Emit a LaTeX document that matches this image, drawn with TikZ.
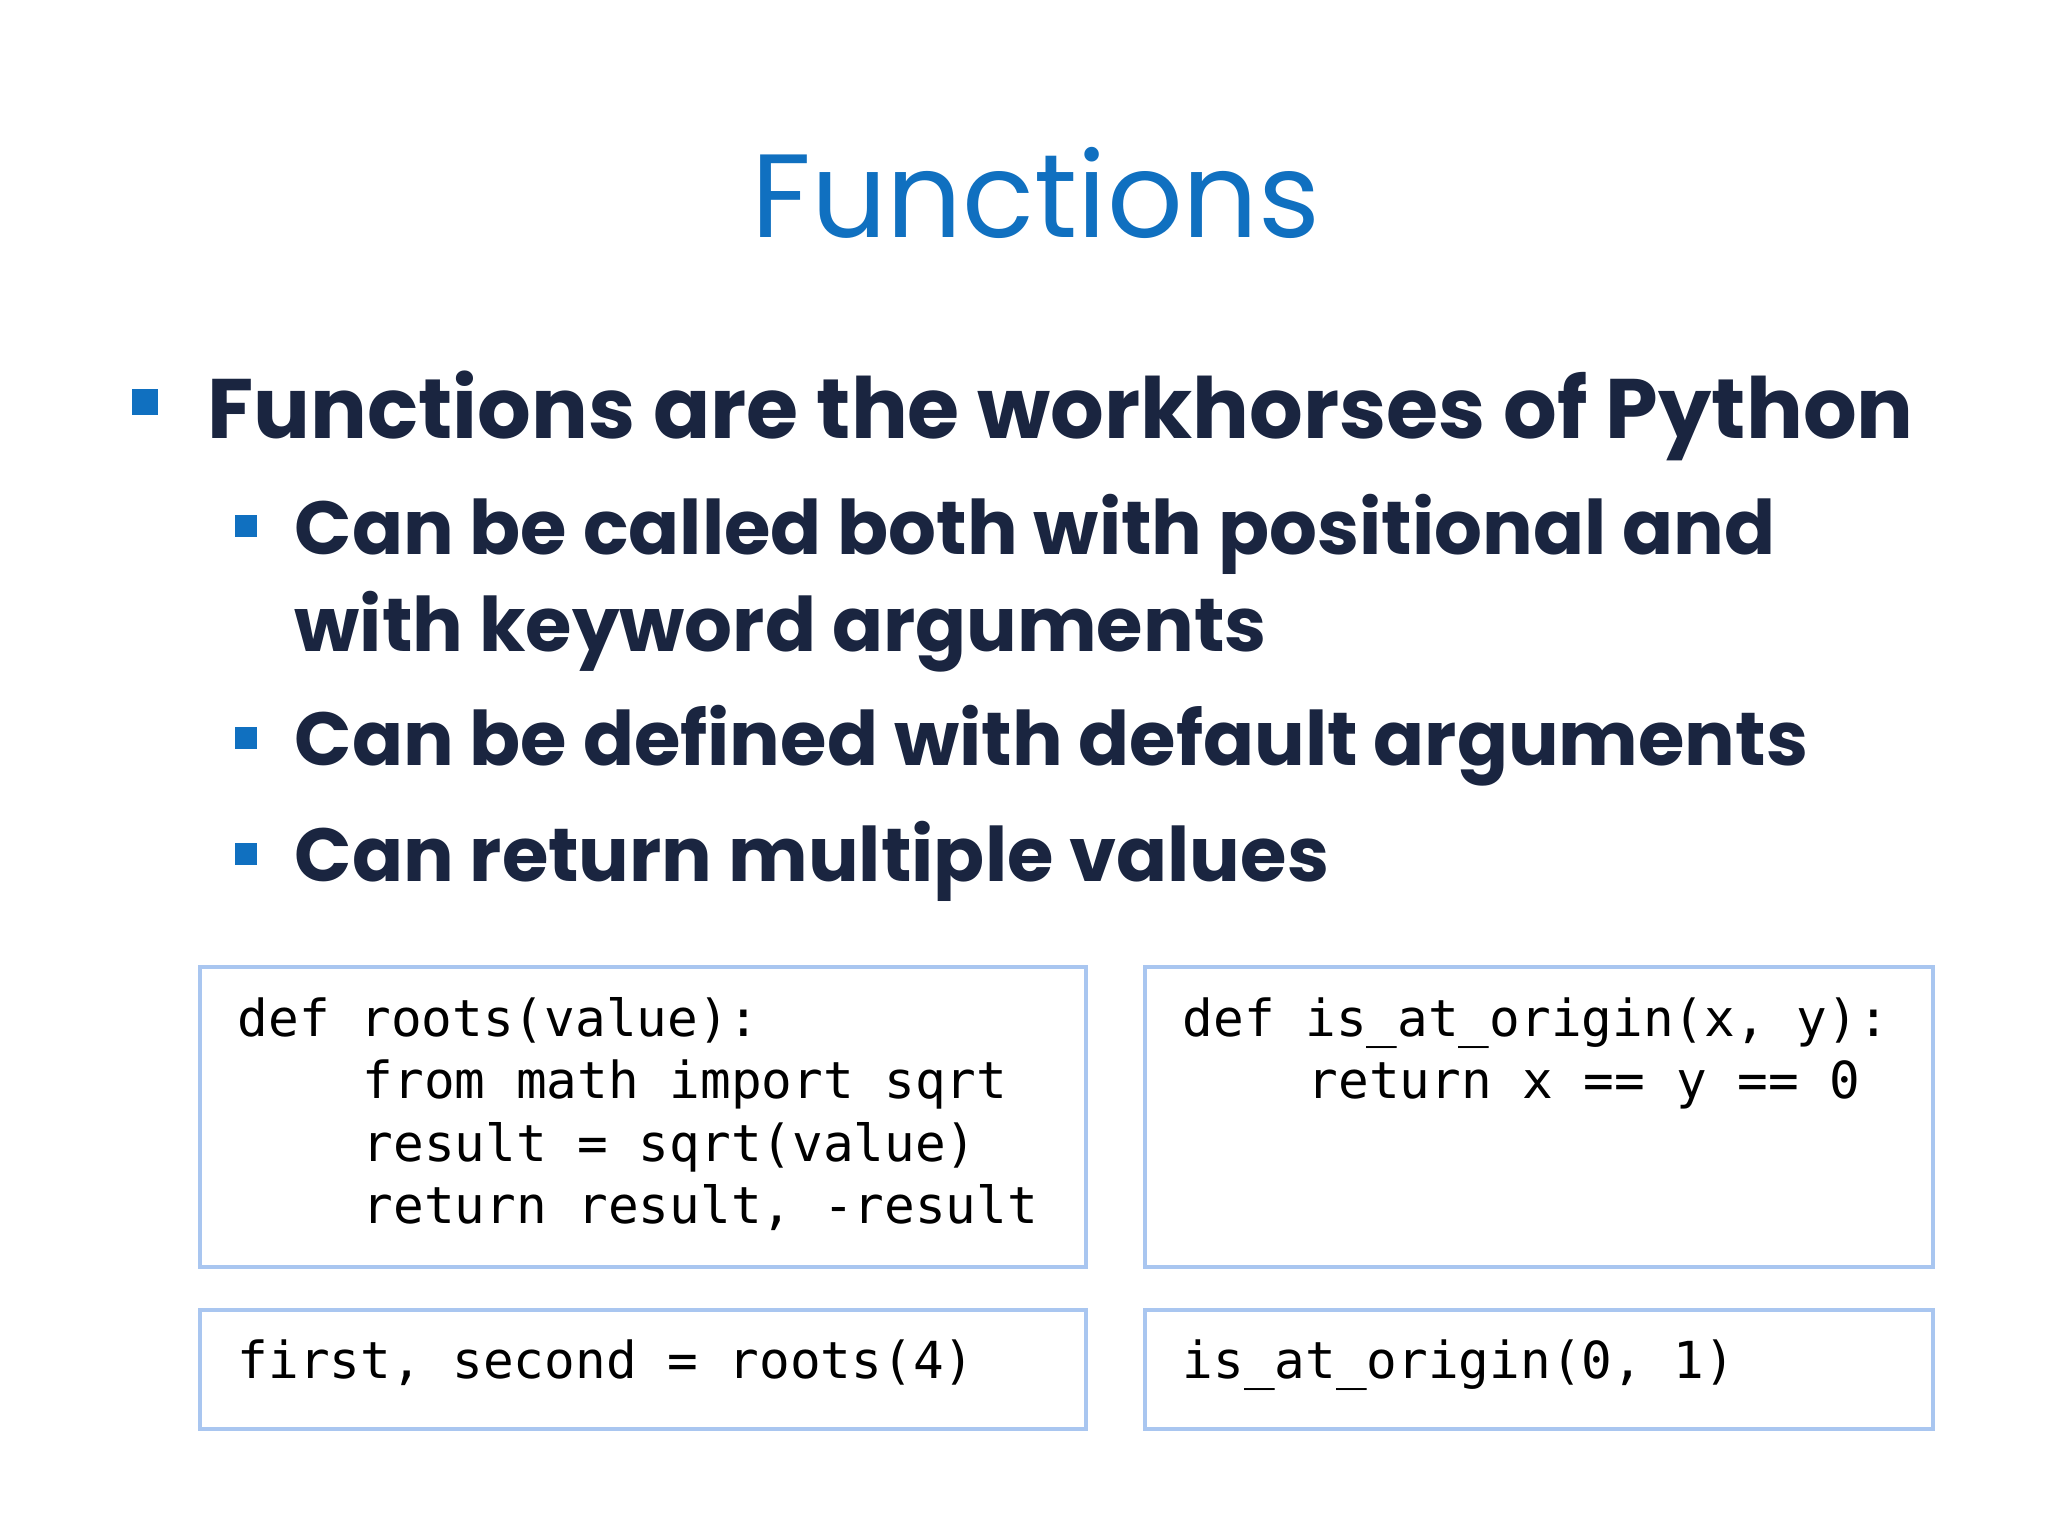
\documentclass[tikz,border=0pt]{standalone}
\usepackage{fontspec}
\setmainfont{Poppins}
\setmonofont{DejaVu Sans Mono}
\definecolor{tblue}{HTML}{1070C0}
\definecolor{navy}{HTML}{1A2540}
\definecolor{bord}{HTML}{A9C6F0}
\begin{document}
\begin{tikzpicture}[x=0.01cm,y=-0.01cm,
  bul/.style={fill=tblue,minimum size=#1*0.01cm,inner sep=0pt},
  txt/.style={anchor=base west,inner sep=0pt,text=navy,font=\fontsize{24pt}{28pt}\selectfont\bfseries},
  sub/.style={anchor=base west,inner sep=0pt,text=navy,font=\fontsize{21.4pt}{26pt}\selectfont\bfseries},
  codebox/.style={draw=bord,line width=1.3pt,fill=white},
  code/.style={anchor=base west,inner sep=0pt,font=\fontsize{14.5pt}{17.7pt}\ttfamily}]
\useasboundingbox[fill=white] (0,0) rectangle (2048,1536);
\node[anchor=base,inner sep=0pt,text=tblue,font=\fontsize{33.7pt}{38pt}\selectfont] (title) at (1036,237) {Functions};
\node[bul=26] (b1) at (145,402) {};
\node[txt] (t1) at (207,438) {Functions are the workhorses of Python};
\node[bul=22] (b2) at (246,526) {};
\node[sub] (t2) at (294,554) {Can be called both with positional and};
\node[sub] (t2b) at (294,651) {with keyword arguments};
\node[bul=22] (b3) at (246,738) {};
\node[sub] (t3) at (294,765) {Can be defined with default arguments};
\node[bul=22] (b4) at (246,854) {};
\node[sub] (t4) at (294,881) {Can return multiple values};
\draw[codebox] (200,967) rectangle (1086,1267);
\draw[codebox] (1145,967) rectangle (1933,1267);
\draw[codebox] (200,1310) rectangle (1086,1429);
\draw[codebox] (1145,1310) rectangle (1933,1429);
\node[code] (c1a) at (237,1036) {def roots(value):};
\node[code] (c1b) at (362,1098) {from math import sqrt};
\node[code] (c1c) at (362,1161) {result = sqrt(value)};
\node[code] (c1d) at (362,1223) {return result, -result};
\node[code] (c2a) at (1182,1036) {def is\_at\_origin(x, y):};
\node[code] (c2b) at (1307,1098) {return x == y == 0};
\node[code] (c3) at (237,1378) {first, second = roots(4)};
\node[code] (c4) at (1182,1378) {is\_at\_origin(0, 1)};
\end{tikzpicture}
\end{document}
